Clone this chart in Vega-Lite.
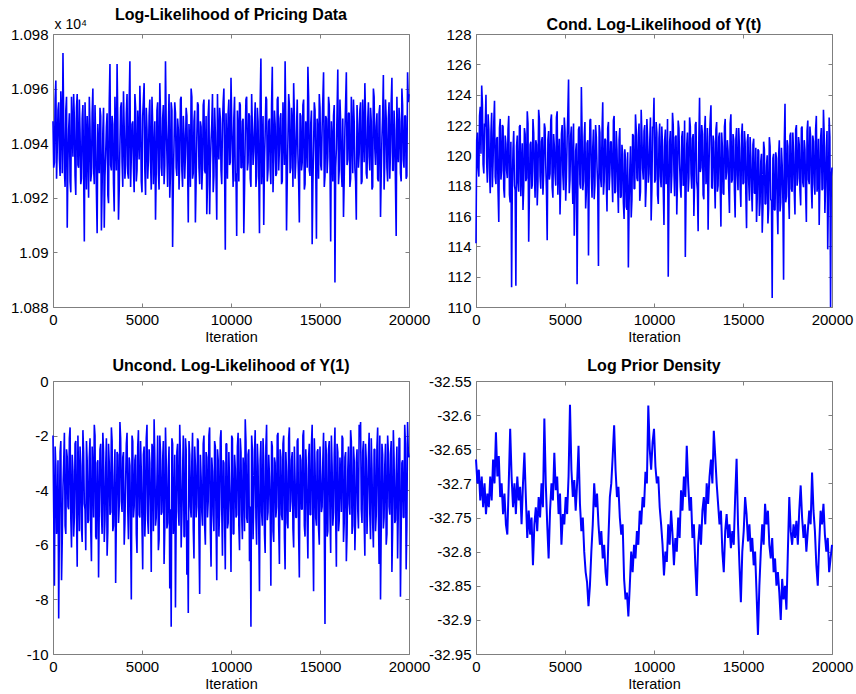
{
"$schema":"https://vega.github.io/schema/vega-lite/v6.json",
"autosize":{"type":"pad"},
"padding":{"left":9,"top":6,"right":0,"bottom":0},
"background":"white",
"datasets":{"t":[
{"x":0,"a":10948,"b":114.2,"c":-2.0,"d":-32.665},
{"x":80,"a":10933,"b":121.5,"c":-7.5,"d":-32.700},
{"x":160,"a":10963,"b":118.6,"c":-3.1,"d":-32.680},
{"x":240,"a":10938,"b":123.2,"c":-5.2,"d":-32.725},
{"x":320,"a":10955,"b":124.6,"c":-8.7,"d":-32.690},
{"x":400,"a":10928,"b":119.4,"c":-2.6,"d":-32.735},
{"x":480,"a":10950,"b":122.1,"c":-7.3,"d":-32.700},
{"x":560,"a":10973,"b":124.0,"c":-3.9,"d":-32.745},
{"x":640,"a":10930,"b":118.2,"c":-1.9,"d":-32.715},
{"x":720,"a":10952,"b":121.7,"c":-5.6,"d":-32.735},
{"x":800,"a":10909,"b":117.5,"c":-2.8,"d":-32.690},
{"x":880,"a":10945,"b":122.8,"c":-4.7,"d":-32.725},
{"x":960,"a":10926,"b":119.6,"c":-1.7,"d":-32.665},
{"x":1040,"a":10957,"b":123.6,"c":-6.1,"d":-32.700},
{"x":1120,"a":10935,"b":118.1,"c":-3.3,"d":-32.625},
{"x":1200,"a":10949,"b":121.2,"c":-5.0,"d":-32.690},
{"x":1280,"a":10921,"b":115.6,"c":-2.2,"d":-32.660},
{"x":1360,"a":10958,"b":122.4,"c":-6.8,"d":-32.720},
{"x":1440,"a":10931,"b":119.0,"c":-3.6,"d":-32.700},
{"x":1520,"a":10944,"b":121.9,"c":-2.4,"d":-32.745},
{"x":1600,"a":10927,"b":117.2,"c":-5.4,"d":-32.715},
{"x":1680,"a":10954,"b":120.8,"c":-1.8,"d":-32.760},
{"x":1760,"a":10904,"b":118.5,"c":-4.5,"d":-32.775},
{"x":1840,"a":10942,"b":122.6,"c":-6.2,"d":-32.700},
{"x":1920,"a":10950,"b":116.9,"c":-2.9,"d":-32.620},
{"x":2000,"a":10920,"b":111.3,"c":-5.1,"d":-32.690},
{"x":2080,"a":10946,"b":120.4,"c":-2.1,"d":-32.735},
{"x":2160,"a":10929,"b":118.0,"c":-6.6,"d":-32.700},
{"x":2240,"a":10960,"b":111.4,"c":-3.4,"d":-32.745},
{"x":2320,"a":10925,"b":121.3,"c":-1.6,"d":-32.690},
{"x":2400,"a":10941,"b":117.6,"c":-5.7,"d":-32.725},
{"x":2480,"a":10907,"b":122.0,"c":-3.0,"d":-32.705},
{"x":2560,"a":10938,"b":119.1,"c":-7.2,"d":-32.760},
{"x":2640,"a":10953,"b":116.4,"c":-2.5,"d":-32.700},
{"x":2720,"a":10908,"b":121.8,"c":-4.8,"d":-32.655},
{"x":2800,"a":10944,"b":118.3,"c":-1.9,"d":-32.720},
{"x":2880,"a":10909,"b":122.9,"c":-5.9,"d":-32.780},
{"x":2960,"a":10936,"b":114.3,"c":-3.2,"d":-32.740},
{"x":3040,"a":10951,"b":120.7,"c":-6.4,"d":-32.775},
{"x":3120,"a":10918,"b":117.8,"c":-2.3,"d":-32.750},
{"x":3200,"a":10969,"b":122.4,"c":-4.9,"d":-32.820},
{"x":3280,"a":10930,"b":118.9,"c":-1.7,"d":-32.760},
{"x":3360,"a":10947,"b":121.0,"c":-5.5,"d":-32.735},
{"x":3440,"a":10915,"b":116.7,"c":-3.5,"d":-32.770},
{"x":3520,"a":10943,"b":123.0,"c":-7.4,"d":-32.720},
{"x":3600,"a":10969,"b":118.6,"c":-2.6,"d":-32.750},
{"x":3680,"a":10912,"b":120.9,"c":-5.2,"d":-32.700},
{"x":3760,"a":10939,"b":117.4,"c":-1.5,"d":-32.735},
{"x":3840,"a":10955,"b":122.1,"c":-4.4,"d":-32.605},
{"x":3920,"a":10924,"b":119.3,"c":-2.8,"d":-32.700},
{"x":4000,"a":10946,"b":114.4,"c":-6.0,"d":-32.760},
{"x":4080,"a":10932,"b":121.6,"c":-3.7,"d":-32.810},
{"x":4160,"a":10958,"b":118.8,"c":-1.9,"d":-32.740},
{"x":4240,"a":10927,"b":122.7,"c":-5.8,"d":-32.700},
{"x":4320,"a":10970,"b":117.2,"c":-3.1,"d":-32.725},
{"x":4400,"a":10935,"b":120.6,"c":-8.0,"d":-32.655},
{"x":4480,"a":10948,"b":118.0,"c":-2.2,"d":-32.710},
{"x":4560,"a":10922,"b":122.9,"c":-4.6,"d":-32.690},
{"x":4640,"a":10953,"b":119.5,"c":-2.7,"d":-32.745},
{"x":4720,"a":10930,"b":116.1,"c":-6.3,"d":-32.715},
{"x":4800,"a":10944,"b":121.4,"c":-1.8,"d":-32.790},
{"x":4880,"a":10961,"b":118.7,"c":-5.0,"d":-32.745},
{"x":4960,"a":10926,"b":122.5,"c":-3.3,"d":-32.760},
{"x":5040,"a":10950,"b":117.0,"c":-6.9,"d":-32.720},
{"x":5120,"a":10962,"b":121.1,"c":-2.4,"d":-32.745},
{"x":5200,"a":10921,"b":125.0,"c":-4.7,"d":-32.690},
{"x":5280,"a":10945,"b":118.4,"c":-1.6,"d":-32.585},
{"x":5360,"a":10934,"b":121.9,"c":-5.6,"d":-32.680},
{"x":5440,"a":10956,"b":116.8,"c":-3.0,"d":-32.720},
{"x":5520,"a":10923,"b":114.7,"c":-7.0,"d":-32.695},
{"x":5600,"a":10947,"b":120.3,"c":-2.5,"d":-32.740},
{"x":5680,"a":10937,"b":111.5,"c":-1.4,"d":-32.700},
{"x":5760,"a":10912,"b":121.7,"c":-5.3,"d":-32.645},
{"x":5840,"a":10952,"b":118.1,"c":-3.6,"d":-32.730},
{"x":5920,"a":10929,"b":124.5,"c":-6.2,"d":-32.770},
{"x":6000,"a":10962,"b":117.7,"c":-2.0,"d":-32.750},
{"x":6080,"a":10931,"b":121.2,"c":-4.9,"d":-32.800},
{"x":6160,"a":10949,"b":116.5,"c":-2.9,"d":-32.830},
{"x":6240,"a":10925,"b":120.8,"c":-6.7,"d":-32.845},
{"x":6320,"a":10970,"b":113.4,"c":-1.7,"d":-32.880},
{"x":6400,"a":10936,"b":122.3,"c":-5.4,"d":-32.850},
{"x":6480,"a":10946,"b":118.6,"c":-3.2,"d":-32.800},
{"x":6560,"a":10920,"b":120.5,"c":-7.6,"d":-32.760},
{"x":6640,"a":10955,"b":117.1,"c":-9.0,"d":-32.700},
{"x":6720,"a":10902,"b":122.0,"c":-2.3,"d":-32.735},
{"x":6800,"a":10940,"b":119.2,"c":-5.1,"d":-32.715},
{"x":6880,"a":10951,"b":112.7,"c":-8.3,"d":-32.760},
{"x":6960,"a":10928,"b":121.5,"c":-2.6,"d":-32.790},
{"x":7040,"a":10945,"b":117.9,"c":-4.8,"d":-32.770},
{"x":7120,"a":10933,"b":123.5,"c":-1.6,"d":-32.810},
{"x":7200,"a":10957,"b":118.3,"c":-6.1,"d":-32.790},
{"x":7280,"a":10924,"b":121.0,"c":-3.4,"d":-32.830},
{"x":7360,"a":10943,"b":116.3,"c":-5.7,"d":-32.850},
{"x":7440,"a":10936,"b":122.2,"c":-2.1,"d":-32.780},
{"x":7520,"a":10950,"b":118.8,"c":-7.1,"d":-32.720},
{"x":7600,"a":10911,"b":120.9,"c":-8.5,"d":-32.700},
{"x":7680,"a":10938,"b":116.9,"c":-2.7,"d":-32.660},
{"x":7760,"a":10960,"b":122.6,"c":-5.0,"d":-32.615},
{"x":7840,"a":10927,"b":117.6,"c":-1.9,"d":-32.680},
{"x":7920,"a":10948,"b":120.4,"c":-6.5,"d":-32.720},
{"x":8000,"a":10911,"b":116.2,"c":-3.1,"d":-32.705},
{"x":8080,"a":10942,"b":121.8,"c":-4.6,"d":-32.750},
{"x":8160,"a":10954,"b":117.3,"c":-2.2,"d":-32.775},
{"x":8240,"a":10925,"b":120.1,"c":-7.8,"d":-32.760},
{"x":8320,"a":10946,"b":115.8,"c":-3.5,"d":-32.840},
{"x":8400,"a":10931,"b":119.7,"c":-5.3,"d":-32.870},
{"x":8480,"a":10956,"b":116.4,"c":-2.0,"d":-32.860},
{"x":8560,"a":10929,"b":112.6,"c":-6.0,"d":-32.895},
{"x":8640,"a":10914,"b":119.0,"c":-2.8,"d":-32.850},
{"x":8720,"a":10950,"b":115.9,"c":-4.4,"d":-32.800},
{"x":8800,"a":10914,"b":121.4,"c":-1.7,"d":-32.830},
{"x":8880,"a":10941,"b":117.8,"c":-6.8,"d":-32.790},
{"x":8960,"a":10958,"b":122.7,"c":-3.3,"d":-32.810},
{"x":9040,"a":10928,"b":118.5,"c":-5.5,"d":-32.770},
{"x":9120,"a":10944,"b":121.3,"c":-2.4,"d":-32.790},
{"x":9200,"a":10912,"b":117.0,"c":-7.3,"d":-32.740},
{"x":9280,"a":10939,"b":123.0,"c":-2.9,"d":-32.760},
{"x":9360,"a":10953,"b":119.1,"c":-4.7,"d":-32.720},
{"x":9440,"a":10930,"b":121.6,"c":-1.8,"d":-32.735},
{"x":9520,"a":10947,"b":116.6,"c":-6.4,"d":-32.683},
{"x":9600,"a":10960,"b":122.4,"c":-3.0,"d":-32.700},
{"x":9680,"a":10901,"b":118.2,"c":-6.9,"d":-32.586},
{"x":9760,"a":10940,"b":120.8,"c":-2.3,"d":-32.650},
{"x":9840,"a":10951,"b":115.7,"c":-5.2,"d":-32.680},
{"x":9920,"a":10932,"b":121.9,"c":-3.8,"d":-32.640},
{"x":10000,"a":10964,"b":123.8,"c":-7.0,"d":-32.620},
{"x":10080,"a":10936,"b":118.4,"c":-2.1,"d":-32.675},
{"x":10160,"a":10949,"b":121.5,"c":-5.6,"d":-32.700},
{"x":10240,"a":10926,"b":116.8,"c":-3.2,"d":-32.690},
{"x":10320,"a":10906,"b":122.1,"c":-4.9,"d":-32.735},
{"x":10400,"a":10945,"b":117.9,"c":-1.9,"d":-32.760},
{"x":10480,"a":10955,"b":120.6,"c":-6.2,"d":-32.790},
{"x":10560,"a":10931,"b":115.4,"c":-2.6,"d":-32.835},
{"x":10640,"a":10948,"b":121.7,"c":-5.8,"d":-32.800},
{"x":10720,"a":10907,"b":118.6,"c":-3.4,"d":-32.815},
{"x":10800,"a":10943,"b":112.0,"c":-1.4,"d":-32.760},
{"x":10880,"a":10957,"b":120.9,"c":-5.0,"d":-32.790},
{"x":10960,"a":10933,"b":117.5,"c":-2.7,"d":-32.740},
{"x":11040,"a":10950,"b":122.8,"c":-6.6,"d":-32.775},
{"x":11120,"a":10924,"b":118.9,"c":-9.0,"d":-32.820},
{"x":11200,"a":10946,"b":121.2,"c":-2.5,"d":-32.780},
{"x":11280,"a":10937,"b":116.1,"c":-4.5,"d":-32.800},
{"x":11360,"a":10955,"b":122.3,"c":-1.8,"d":-32.750},
{"x":11440,"a":10928,"b":119.4,"c":-6.0,"d":-32.780},
{"x":11520,"a":10948,"b":117.2,"c":-3.1,"d":-32.710},
{"x":11600,"a":10907,"b":121.6,"c":-7.7,"d":-32.740},
{"x":11680,"a":10971,"b":118.1,"c":-2.2,"d":-32.690},
{"x":11760,"a":10935,"b":113.3,"c":-5.3,"d":-32.720},
{"x":11840,"a":10910,"b":120.7,"c":-2.9,"d":-32.645},
{"x":11920,"a":10944,"b":117.6,"c":-6.3,"d":-32.700},
{"x":12000,"a":10956,"b":122.5,"c":-1.6,"d":-32.740},
{"x":12080,"a":10930,"b":118.8,"c":-4.8,"d":-32.720},
{"x":12160,"a":10949,"b":121.1,"c":-3.5,"d":-32.780},
{"x":12240,"a":10925,"b":116.0,"c":-7.5,"d":-32.760},
{"x":12320,"a":10968,"b":122.0,"c":-2.4,"d":-32.820},
{"x":12400,"a":10934,"b":118.3,"c":-5.9,"d":-32.865},
{"x":12480,"a":10947,"b":115.0,"c":-3.0,"d":-32.790},
{"x":12560,"a":10929,"b":123.8,"c":-4.6,"d":-32.760},
{"x":12640,"a":10957,"b":119.2,"c":-1.9,"d":-32.790},
{"x":12720,"a":10938,"b":121.4,"c":-6.7,"d":-32.740},
{"x":12800,"a":10951,"b":117.1,"c":-2.8,"d":-32.720},
{"x":12880,"a":10926,"b":122.6,"c":-5.1,"d":-32.760},
{"x":12960,"a":10944,"b":118.7,"c":-2.0,"d":-32.700},
{"x":13040,"a":10970,"b":115.1,"c":-6.9,"d":-32.730},
{"x":13120,"a":10908,"b":121.2,"c":-3.3,"d":-32.690},
{"x":13200,"a":10942,"b":123.3,"c":-5.4,"d":-32.665},
{"x":13280,"a":10954,"b":117.8,"c":-1.7,"d":-32.700},
{"x":13360,"a":10931,"b":120.9,"c":-4.4,"d":-32.623},
{"x":13440,"a":10947,"b":116.5,"c":-2.6,"d":-32.660},
{"x":13520,"a":10962,"b":122.2,"c":-6.1,"d":-32.700},
{"x":13600,"a":10927,"b":118.0,"c":-3.6,"d":-32.730},
{"x":13680,"a":10945,"b":121.5,"c":-5.0,"d":-32.760},
{"x":13760,"a":10936,"b":115.3,"c":-2.1,"d":-32.740},
{"x":13840,"a":10911,"b":120.6,"c":-7.2,"d":-32.800},
{"x":13920,"a":10950,"b":117.4,"c":-2.9,"d":-32.830},
{"x":14000,"a":10933,"b":122.4,"c":-4.7,"d":-32.770},
{"x":14080,"a":10956,"b":118.9,"c":-1.8,"d":-32.745},
{"x":14160,"a":10925,"b":120.3,"c":-5.7,"d":-32.780},
{"x":14240,"a":10943,"b":116.2,"c":-3.2,"d":-32.760},
{"x":14320,"a":10968,"b":122.7,"c":-6.5,"d":-32.795},
{"x":14400,"a":10930,"b":118.4,"c":-2.3,"d":-32.770},
{"x":14480,"a":10947,"b":121.0,"c":-4.9,"d":-32.790},
{"x":14560,"a":10903,"b":115.9,"c":-1.6,"d":-32.720},
{"x":14640,"a":10939,"b":121.8,"c":-7.7,"d":-32.664},
{"x":14720,"a":10952,"b":117.7,"c":-3.0,"d":-32.760},
{"x":14800,"a":10905,"b":120.5,"c":-5.3,"d":-32.820},
{"x":14880,"a":10944,"b":116.6,"c":-2.5,"d":-32.874},
{"x":14960,"a":10958,"b":122.1,"c":-6.0,"d":-32.800},
{"x":15040,"a":10932,"b":118.2,"c":-3.4,"d":-32.770},
{"x":15120,"a":10946,"b":120.8,"c":-4.6,"d":-32.720},
{"x":15200,"a":10966,"b":115.2,"c":-1.9,"d":-32.745},
{"x":15280,"a":10928,"b":121.4,"c":-8.9,"d":-32.785},
{"x":15360,"a":10949,"b":117.0,"c":-2.7,"d":-32.760},
{"x":15440,"a":10935,"b":119.9,"c":-5.5,"d":-32.800},
{"x":15520,"a":10954,"b":116.3,"c":-2.2,"d":-32.780},
{"x":15600,"a":10904,"b":121.1,"c":-6.3,"d":-32.820},
{"x":15680,"a":10941,"b":117.5,"c":-3.1,"d":-32.800},
{"x":15760,"a":10950,"b":115.6,"c":-4.8,"d":-32.860},
{"x":15840,"a":10889,"b":120.4,"c":-1.7,"d":-32.922},
{"x":15920,"a":10938,"b":116.0,"c":-6.8,"d":-32.850},
{"x":16000,"a":10967,"b":119.6,"c":-2.6,"d":-32.800},
{"x":16080,"a":10930,"b":114.9,"c":-5.1,"d":-32.760},
{"x":16160,"a":10948,"b":120.9,"c":-3.5,"d":-32.790},
{"x":16240,"a":10924,"b":116.8,"c":-2.0,"d":-32.730},
{"x":16320,"a":10913,"b":119.3,"c":-5.9,"d":-32.760},
{"x":16400,"a":10945,"b":115.5,"c":-2.8,"d":-32.740},
{"x":16480,"a":10966,"b":121.2,"c":-6.6,"d":-32.790},
{"x":16560,"a":10934,"b":117.1,"c":-3.3,"d":-32.810},
{"x":16640,"a":10951,"b":110.6,"c":-4.5,"d":-32.780},
{"x":16720,"a":10927,"b":120.1,"c":-1.8,"d":-32.830},
{"x":16800,"a":10943,"b":116.4,"c":-5.6,"d":-32.810},
{"x":16880,"a":10956,"b":119.8,"c":-2.4,"d":-32.850},
{"x":16960,"a":10931,"b":114.8,"c":-6.2,"d":-32.830},
{"x":17040,"a":10912,"b":121.0,"c":-3.0,"d":-32.860},
{"x":17120,"a":10947,"b":116.9,"c":-4.7,"d":-32.900},
{"x":17200,"a":10936,"b":119.4,"c":-1.6,"d":-32.840},
{"x":17280,"a":10955,"b":111.8,"c":-1.5,"d":-32.870},
{"x":17360,"a":10926,"b":123.4,"c":-5.2,"d":-32.850},
{"x":17440,"a":10944,"b":117.3,"c":-2.2,"d":-32.885},
{"x":17520,"a":10962,"b":120.6,"c":-6.4,"d":-32.800},
{"x":17600,"a":10929,"b":115.8,"c":-2.9,"d":-32.720},
{"x":17680,"a":10948,"b":121.5,"c":-4.4,"d":-32.770},
{"x":17760,"a":10935,"b":117.6,"c":-1.9,"d":-32.790},
{"x":17840,"a":10953,"b":120.2,"c":-5.8,"d":-32.760},
{"x":17920,"a":10923,"b":116.1,"c":-3.2,"d":-32.780},
{"x":18000,"a":10960,"b":122.0,"c":-6.1,"d":-32.755},
{"x":18080,"a":10938,"b":118.5,"c":-2.5,"d":-32.790},
{"x":18160,"a":10946,"b":120.7,"c":-4.9,"d":-32.740},
{"x":18240,"a":10927,"b":116.7,"c":-1.7,"d":-32.703},
{"x":18320,"a":10951,"b":121.9,"c":-6.7,"d":-32.750},
{"x":18400,"a":10913,"b":117.9,"c":-8.0,"d":-32.780},
{"x":18480,"a":10942,"b":120.4,"c":-2.3,"d":-32.760},
{"x":18560,"a":10965,"b":115.6,"c":-5.4,"d":-32.800},
{"x":18640,"a":10933,"b":122.3,"c":-3.1,"d":-32.770},
{"x":18720,"a":10949,"b":118.1,"c":-6.0,"d":-32.740},
{"x":18800,"a":10926,"b":121.2,"c":-2.0,"d":-32.760},
{"x":18880,"a":10955,"b":116.5,"c":-4.6,"d":-32.684},
{"x":18960,"a":10937,"b":120.9,"c":-2.7,"d":-32.740},
{"x":19040,"a":10964,"b":117.4,"c":-7.0,"d":-32.770},
{"x":19120,"a":10930,"b":122.6,"c":-1.8,"d":-32.820},
{"x":19200,"a":10945,"b":118.3,"c":-5.2,"d":-32.850},
{"x":19280,"a":10906,"b":115.4,"c":-3.4,"d":-32.790},
{"x":19360,"a":10941,"b":121.1,"c":-6.5,"d":-32.740},
{"x":19440,"a":10953,"b":117.7,"c":-2.1,"d":-32.760},
{"x":19520,"a":10929,"b":123.0,"c":-7.9,"d":-32.730},
{"x":19600,"a":10960,"b":116.2,"c":-3.0,"d":-32.775},
{"x":19680,"a":10934,"b":120.5,"c":-5.0,"d":-32.800},
{"x":19760,"a":10950,"b":113.8,"c":-1.6,"d":-32.780},
{"x":19840,"a":10927,"b":122.5,"c":-6.9,"d":-32.830},
{"x":19920,"a":10966,"b":110.0,"c":-1.5,"d":-32.810},
{"x":20000,"a":10958,"b":119.2,"c":-2.8,"d":-32.790},
{"x":40,"a":10931,"b":121.0,"c":-4.8},
{"x":120,"a":10956,"b":119.2,"c":-2.4},
{"x":200,"a":10927,"b":122.6,"c":-5.6},
{"x":280,"a":10952,"b":120.1,"c":-2.9},
{"x":360,"a":10934,"b":123.4,"c":-5.1},
{"x":440,"a":10959,"b":118.8,"c":-2.2},
{"x":520,"a":10929,"b":121.9,"c":-5.8},
{"x":600,"a":10948,"b":119.5,"c":-3.0},
{"x":680,"a":10924,"b":122.7,"c":-5.3},
{"x":760,"a":10957,"b":118.9,"c":-2.5},
{"x":840,"a":10933,"b":121.5,"c":-4.6},
{"x":920,"a":10951,"b":117.9,"c":-2.1},
{"x":1000,"a":10922,"b":122.2,"c":-5.0},
{"x":1080,"a":10946,"b":118.6,"c":-2.7},
{"x":1160,"a":10958,"b":121.1,"c":-5.7},
{"x":1240,"a":10928,"b":117.6,"c":-2.3},
{"x":1320,"a":10953,"b":121.8,"c":-4.9},
{"x":1400,"a":10932,"b":118.4,"c":-2.0},
{"x":1480,"a":10956,"b":122.0,"c":-5.5},
{"x":1560,"a":10925,"b":117.8,"c":-3.1},
{"x":1640,"a":10949,"b":121.3,"c":-5.9},
{"x":1720,"a":10930,"b":119.0,"c":-2.6},
{"x":1800,"a":10955,"b":121.7,"c":-4.7},
{"x":1880,"a":10923,"b":117.4,"c":-2.2},
{"x":1960,"a":10940,"b":120.9,"c":-5.2},
{"x":2040,"a":10957,"b":118.1,"c":-2.8},
{"x":2120,"a":10926,"b":121.6,"c":-5.4},
{"x":2200,"a":10951,"b":117.7,"c":-2.4},
{"x":2280,"a":10931,"b":120.6,"c":-5.0},
{"x":2360,"a":10954,"b":118.2,"c":-2.0},
{"x":2440,"a":10922,"b":121.9,"c":-5.8},
{"x":2520,"a":10947,"b":117.3,"c":-2.9},
{"x":2600,"a":10929,"b":120.8,"c":-4.6},
{"x":2680,"a":10950,"b":117.9,"c":-2.3},
{"x":2760,"a":10924,"b":121.4,"c":-5.6},
{"x":2840,"a":10953,"b":118.5,"c":-2.6},
{"x":2920,"a":10928,"b":122.1,"c":-5.1},
{"x":3000,"a":10946,"b":117.5,"c":-2.1},
{"x":3080,"a":10921,"b":120.9,"c":-5.5},
{"x":3160,"a":10955,"b":118.0,"c":-3.0},
{"x":3240,"a":10932,"b":121.5,"c":-4.8},
{"x":3320,"a":10950,"b":117.2,"c":-2.2},
{"x":3400,"a":10925,"b":120.7,"c":-5.3},
{"x":3480,"a":10957,"b":118.3,"c":-2.5},
{"x":3560,"a":10930,"b":122.4,"c":-4.9},
{"x":3640,"a":10948,"b":117.8,"c":-2.7},
{"x":3720,"a":10923,"b":121.2,"c":-4.6},
{"x":3800,"a":10953,"b":118.7,"c":-2.1},
{"x":3880,"a":10933,"b":121.8,"c":-4.8},
{"x":3960,"a":10959,"b":117.6,"c":-2.6},
{"x":4040,"a":10927,"b":121.0,"c":-5.2},
{"x":4120,"a":10951,"b":118.4,"c":-2.3},
{"x":4200,"a":10929,"b":122.3,"c":-4.7},
{"x":4280,"a":10955,"b":117.9,"c":-2.8},
{"x":4360,"a":10924,"b":121.4,"c":-5.4},
{"x":4440,"a":10947,"b":118.8,"c":-2.0},
{"x":4520,"a":10931,"b":122.5,"c":-5.0},
{"x":4600,"a":10958,"b":117.4,"c":-2.9},
{"x":4680,"a":10926,"b":121.1,"c":-5.6},
{"x":4760,"a":10952,"b":118.2,"c":-2.4},
{"x":4840,"a":10934,"b":122.0,"c":-4.9},
{"x":4920,"a":10949,"b":117.7,"c":-2.2},
{"x":5000,"a":10922,"b":121.6,"c":-5.3},
{"x":5080,"a":10956,"b":118.6,"c":-2.7},
{"x":5160,"a":10930,"b":122.8,"c":-5.7},
{"x":5240,"a":10953,"b":117.5,"c":-2.1},
{"x":5320,"a":10927,"b":121.3,"c":-5.1},
{"x":5400,"a":10950,"b":118.9,"c":-2.5},
{"x":5480,"a":10933,"b":122.1,"c":-4.6},
{"x":5560,"a":10957,"b":117.3,"c":-2.3},
{"x":5640,"a":10925,"b":120.8,"c":-5.5},
{"x":5720,"a":10948,"b":118.1,"c":-2.8},
{"x":5800,"a":10930,"b":121.9,"c":-5.0},
{"x":5880,"a":10955,"b":117.8,"c":-2.0},
{"x":5960,"a":10923,"b":121.4,"c":-5.8},
{"x":6040,"a":10951,"b":118.3,"c":-2.6},
{"x":6120,"a":10928,"b":122.2,"c":-4.8},
{"x":6200,"a":10954,"b":117.6,"c":-2.2},
{"x":6280,"a":10932,"b":121.0,"c":-5.4},
{"x":6360,"a":10947,"b":118.7,"c":-2.9},
{"x":6440,"a":10924,"b":122.4,"c":-5.2},
{"x":6520,"a":10958,"b":117.2,"c":-2.4},
{"x":6600,"a":10929,"b":121.7,"c":-4.7},
{"x":6680,"a":10952,"b":118.0,"c":-2.1},
{"x":6760,"a":10926,"b":121.2,"c":-5.6},
{"x":6840,"a":10955,"b":117.9,"c":-2.7},
{"x":6920,"a":10931,"b":122.0,"c":-5.0},
{"x":7000,"a":10949,"b":118.5,"c":-2.3},
{"x":7080,"a":10923,"b":121.5,"c":-5.3},
{"x":7160,"a":10956,"b":117.4,"c":-2.8},
{"x":7240,"a":10930,"b":121.1,"c":-4.9},
{"x":7320,"a":10950,"b":118.2,"c":-2.0},
{"x":7400,"a":10927,"b":121.8,"c":-5.7},
{"x":7480,"a":10953,"b":117.7,"c":-2.5},
{"x":7560,"a":10933,"b":120.9,"c":-5.1},
{"x":7640,"a":10947,"b":118.6,"c":-2.2},
{"x":7720,"a":10924,"b":122.3,"c":-4.6},
{"x":7800,"a":10957,"b":117.5,"c":-2.9},
{"x":7880,"a":10929,"b":121.6,"c":-5.4},
{"x":7960,"a":10952,"b":118.0,"c":-2.4},
{"x":8040,"a":10926,"b":121.0,"c":-5.0},
{"x":8120,"a":10955,"b":117.2,"c":-2.1},
{"x":8200,"a":10931,"b":120.7,"c":-5.6},
{"x":8280,"a":10948,"b":116.9,"c":-2.7},
{"x":8360,"a":10923,"b":120.4,"c":-4.8},
{"x":8440,"a":10954,"b":116.6,"c":-2.3},
{"x":8520,"a":10930,"b":120.2,"c":-5.3},
{"x":8600,"a":10950,"b":116.8,"c":-2.6},
{"x":8680,"a":10925,"b":120.6,"c":-5.0},
{"x":8760,"a":10956,"b":117.1,"c":-2.0},
{"x":8840,"a":10932,"b":121.3,"c":-5.5},
{"x":8920,"a":10947,"b":117.8,"c":-2.8},
{"x":9000,"a":10922,"b":121.7,"c":-4.9},
{"x":9080,"a":10953,"b":118.3,"c":-2.2},
{"x":9160,"a":10928,"b":122.1,"c":-5.2},
{"x":9240,"a":10958,"b":117.6,"c":-2.5},
{"x":9320,"a":10934,"b":121.4,"c":-5.7},
{"x":9400,"a":10949,"b":118.4,"c":-2.1},
{"x":9480,"a":10925,"b":122.0,"c":-4.7},
{"x":9560,"a":10955,"b":117.9,"c":-2.9},
{"x":9640,"a":10930,"b":121.2,"c":-5.1},
{"x":9720,"a":10951,"b":118.8,"c":-2.3},
{"x":9800,"a":10927,"b":122.5,"c":-5.4},
{"x":9880,"a":10956,"b":117.7,"c":-2.6},
{"x":9960,"a":10933,"b":121.8,"c":-4.8},
{"x":10040,"a":10948,"b":118.2,"c":-2.0},
{"x":10120,"a":10924,"b":122.2,"c":-5.6},
{"x":10200,"a":10957,"b":117.4,"c":-2.7},
{"x":10280,"a":10929,"b":121.1,"c":-5.0},
{"x":10360,"a":10952,"b":118.6,"c":-2.4},
{"x":10440,"a":10926,"b":121.9,"c":-5.3},
{"x":10520,"a":10954,"b":117.8,"c":-2.1},
{"x":10600,"a":10931,"b":121.0,"c":-4.9},
{"x":10680,"a":10949,"b":118.1,"c":-2.8},
{"x":10760,"a":10923,"b":122.4,"c":-5.5},
{"x":10840,"a":10956,"b":117.5,"c":-2.2},
{"x":10920,"a":10930,"b":121.6,"c":-5.2},
{"x":11000,"a":10951,"b":118.7,"c":-2.5},
{"x":11080,"a":10927,"b":122.0,"c":-4.6},
{"x":11160,"a":10958,"b":117.3,"c":-2.0},
{"x":11240,"a":10932,"b":121.3,"c":-5.8},
{"x":11320,"a":10947,"b":118.4,"c":-2.6},
{"x":11400,"a":10924,"b":121.8,"c":-5.0},
{"x":11480,"a":10953,"b":117.9,"c":-2.3},
{"x":11560,"a":10929,"b":121.2,"c":-5.4},
{"x":11640,"a":10955,"b":118.0,"c":-2.9},
{"x":11720,"a":10925,"b":122.3,"c":-4.8},
{"x":11800,"a":10950,"b":117.6,"c":-2.1},
{"x":11880,"a":10933,"b":121.5,"c":-5.6},
{"x":11960,"a":10957,"b":118.5,"c":-2.4},
{"x":12040,"a":10926,"b":121.9,"c":-5.1},
{"x":12120,"a":10948,"b":117.8,"c":-2.7},
{"x":12200,"a":10931,"b":121.4,"c":-4.7},
{"x":12280,"a":10954,"b":118.2,"c":-2.2},
{"x":12360,"a":10922,"b":122.2,"c":-5.5},
{"x":12440,"a":10952,"b":117.7,"c":-2.8},
{"x":12520,"a":10928,"b":121.1,"c":-5.0},
{"x":12600,"a":10956,"b":118.9,"c":-2.0},
{"x":12680,"a":10930,"b":122.0,"c":-5.3},
{"x":12760,"a":10949,"b":117.4,"c":-2.5},
{"x":12840,"a":10925,"b":121.6,"c":-4.9},
{"x":12920,"a":10955,"b":118.1,"c":-2.3},
{"x":13000,"a":10932,"b":121.8,"c":-5.7},
{"x":13080,"a":10947,"b":118.6,"c":-2.6},
{"x":13160,"a":10927,"b":122.4,"c":-5.2},
{"x":13240,"a":10958,"b":117.9,"c":-2.1},
{"x":13320,"a":10929,"b":121.3,"c":-4.8},
{"x":13400,"a":10953,"b":118.3,"c":-2.9},
{"x":13480,"a":10924,"b":121.7,"c":-5.4},
{"x":13560,"a":10950,"b":117.6,"c":-2.4},
{"x":13640,"a":10933,"b":121.2,"c":-5.0},
{"x":13720,"a":10956,"b":118.0,"c":-2.2},
{"x":13800,"a":10926,"b":121.5,"c":-5.6},
{"x":13880,"a":10951,"b":117.5,"c":-2.7},
{"x":13960,"a":10930,"b":121.9,"c":-4.7},
{"x":14040,"a":10954,"b":118.4,"c":-2.0},
{"x":14120,"a":10923,"b":121.0,"c":-5.3},
{"x":14200,"a":10948,"b":117.8,"c":-2.5},
{"x":14280,"a":10931,"b":122.1,"c":-5.1},
{"x":14360,"a":10957,"b":118.2,"c":-2.8},
{"x":14440,"a":10928,"b":121.4,"c":-4.9},
{"x":14520,"a":10952,"b":117.6,"c":-2.3},
{"x":14600,"a":10925,"b":121.1,"c":-5.5},
{"x":14680,"a":10955,"b":118.7,"c":-2.1},
{"x":14760,"a":10932,"b":121.8,"c":-5.0},
{"x":14840,"a":10949,"b":117.9,"c":-2.6},
{"x":14920,"a":10927,"b":121.3,"c":-5.4},
{"x":15000,"a":10953,"b":118.1,"c":-2.4},
{"x":15080,"a":10930,"b":121.6,"c":-4.8},
{"x":15160,"a":10956,"b":117.4,"c":-2.9},
{"x":15240,"a":10924,"b":120.9,"c":-5.2},
{"x":15320,"a":10950,"b":118.3,"c":-2.2},
{"x":15400,"a":10929,"b":121.2,"c":-5.7},
{"x":15480,"a":10957,"b":117.7,"c":-2.5},
{"x":15560,"a":10933,"b":120.7,"c":-4.9},
{"x":15640,"a":10948,"b":117.5,"c":-2.0},
{"x":15720,"a":10926,"b":120.5,"c":-5.3},
{"x":15800,"a":10954,"b":117.2,"c":-2.7},
{"x":15880,"a":10931,"b":120.3,"c":-5.0},
{"x":15960,"a":10952,"b":116.9,"c":-2.3},
{"x":16040,"a":10925,"b":120.1,"c":-5.5},
{"x":16120,"a":10956,"b":116.6,"c":-2.8},
{"x":16200,"a":10930,"b":120.4,"c":-4.8},
{"x":16280,"a":10949,"b":116.8,"c":-2.1},
{"x":16360,"a":10927,"b":120.0,"c":-5.2},
{"x":16440,"a":10955,"b":116.5,"c":-2.6},
{"x":16520,"a":10932,"b":120.6,"c":-5.6},
{"x":16600,"a":10951,"b":117.0,"c":-2.4},
{"x":16680,"a":10924,"b":119.8,"c":-4.9},
{"x":16760,"a":10957,"b":116.4,"c":-2.2},
{"x":16840,"a":10929,"b":120.2,"c":-5.3},
{"x":16920,"a":10948,"b":116.7,"c":-2.9},
{"x":17000,"a":10926,"b":119.9,"c":-5.0},
{"x":17080,"a":10954,"b":116.3,"c":-2.5},
{"x":17160,"a":10931,"b":120.5,"c":-5.4},
{"x":17240,"a":10952,"b":117.1,"c":-2.0},
{"x":17320,"a":10925,"b":120.8,"c":-4.7},
{"x":17400,"a":10956,"b":116.9,"c":-2.6},
{"x":17480,"a":10933,"b":121.0,"c":-5.1},
{"x":17560,"a":10950,"b":117.4,"c":-2.3},
{"x":17640,"a":10927,"b":121.3,"c":-5.6},
{"x":17720,"a":10955,"b":117.8,"c":-2.8},
{"x":17800,"a":10930,"b":121.5,"c":-4.9},
{"x":17880,"a":10948,"b":117.6,"c":-2.1},
{"x":17960,"a":10924,"b":121.7,"c":-5.2},
{"x":18040,"a":10957,"b":118.0,"c":-2.5},
{"x":18120,"a":10932,"b":121.2,"c":-5.5},
{"x":18200,"a":10951,"b":117.7,"c":-2.4},
{"x":18280,"a":10926,"b":121.8,"c":-4.8},
{"x":18360,"a":10954,"b":118.2,"c":-2.0},
{"x":18440,"a":10929,"b":121.0,"c":-5.3},
{"x":18520,"a":10950,"b":117.5,"c":-2.7},
{"x":18600,"a":10923,"b":121.6,"c":-5.0},
{"x":18680,"a":10956,"b":118.4,"c":-2.3},
{"x":18760,"a":10931,"b":121.9,"c":-5.6},
{"x":18840,"a":10949,"b":117.9,"c":-2.6},
{"x":18920,"a":10927,"b":121.3,"c":-4.9},
{"x":19000,"a":10955,"b":118.1,"c":-2.2},
{"x":19080,"a":10930,"b":121.7,"c":-5.4},
{"x":19160,"a":10952,"b":117.6,"c":-2.8},
{"x":19240,"a":10925,"b":121.1,"c":-5.1},
{"x":19320,"a":10957,"b":118.3,"c":-2.4},
{"x":19400,"a":10933,"b":121.8,"c":-4.7},
{"x":19480,"a":10948,"b":117.8,"c":-2.1},
{"x":19560,"a":10926,"b":121.4,"c":-5.5},
{"x":19640,"a":10954,"b":118.0,"c":-2.9},
{"x":19720,"a":10931,"b":121.6,"c":-5.0},
{"x":19800,"a":10950,"b":117.5,"c":-2.3},
{"x":19880,"a":10928,"b":121.2,"c":-5.3},
{"x":19960,"a":10955,"b":118.6,"c":-2.6}
]},
"data":{"name":"t"},
"columns":2,
"spacing":{"row":74,"column":67},
"bounds":"flush",
"concat":[
{"width":356,"height":273,"title":{"text":"Log-Likelihood of Pricing Data","offset":-6},
 "layer":[
  {"mark":{"type":"line","stroke":"#0000ff","strokeWidth":1.6,"strokeJoin":"bevel","invalid":"filter"},
   "encoding":{
    "x":{"field":"x","type":"quantitative","scale":{"domain":[0,20000],"nice":false},"axis":{"orient":"bottom","values":[0,5000,10000,15000,20000],"format":"d","title":"Iteration"}},
    "y":{"field":"a","type":"quantitative","scale":{"domain":[10880,10980],"nice":false,"zero":false},"axis":{"orient":"left","values":[10880,10900,10920,10940,10960,10980],"labelExpr":"format(datum.value/10000,'.4~f')","title":"x 10⁴","titleAngle":0,"titleAlign":"left","titleBaseline":"alphabetic","titleX":1,"titleY":-6,"titleFontSize":14}}}},
  {"mark":{"type":"line","opacity":0,"invalid":"filter"},
   "encoding":{
    "x":{"field":"x","type":"quantitative","axis":{"orient":"top","values":[0,5000,10000,15000,20000],"labels":false,"title":null}},
    "y":{"field":"a","type":"quantitative","axis":{"orient":"right","values":[10880,10900,10920,10940,10960,10980],"labels":false,"title":null}}}}
 ],
 "resolve":{"axis":{"x":"independent","y":"independent"}}},
{"width":356,"height":273,"title":{"text":"Cond. Log-Likelihood of Y(t)","offset":-6},
 "layer":[
  {"mark":{"type":"line","stroke":"#0000ff","strokeWidth":1.6,"strokeJoin":"bevel","invalid":"filter"},
   "encoding":{
    "x":{"field":"x","type":"quantitative","scale":{"domain":[0,20000],"nice":false},"axis":{"orient":"bottom","values":[0,5000,10000,15000,20000],"format":"d","title":"Iteration"}},
    "y":{"field":"b","type":"quantitative","scale":{"domain":[110,128],"nice":false,"zero":false},"axis":{"orient":"left","values":[110,112,114,116,118,120,122,124,126,128],"title":null}}}},
  {"mark":{"type":"line","opacity":0,"invalid":"filter"},
   "encoding":{
    "x":{"field":"x","type":"quantitative","axis":{"orient":"top","values":[0,5000,10000,15000,20000],"labels":false,"title":null}},
    "y":{"field":"b","type":"quantitative","axis":{"orient":"right","values":[110,112,114,116,118,120,122,124,126,128],"labels":false,"title":null}}}}
 ],
 "resolve":{"axis":{"x":"independent","y":"independent"}}},
{"width":356,"height":273,"title":{"text":"Uncond. Log-Likelihood of Y(1)","offset":0},
 "layer":[
  {"mark":{"type":"line","stroke":"#0000ff","strokeWidth":1.6,"strokeJoin":"bevel","invalid":"filter"},
   "encoding":{
    "x":{"field":"x","type":"quantitative","scale":{"domain":[0,20000],"nice":false},"axis":{"orient":"bottom","values":[0,5000,10000,15000,20000],"format":"d","title":"Iteration"}},
    "y":{"field":"c","type":"quantitative","scale":{"domain":[-10,0],"nice":false,"zero":false},"axis":{"orient":"left","values":[-10,-8,-6,-4,-2,0],"labelExpr":"replace(format(datum.value,'~g'),'−','-')","title":null}}}},
  {"mark":{"type":"line","opacity":0,"invalid":"filter"},
   "encoding":{
    "x":{"field":"x","type":"quantitative","axis":{"orient":"top","values":[0,5000,10000,15000,20000],"labels":false,"title":null}},
    "y":{"field":"c","type":"quantitative","axis":{"orient":"right","values":[-10,-8,-6,-4,-2,0],"labels":false,"title":null}}}}
 ],
 "resolve":{"axis":{"x":"independent","y":"independent"}}},
{"width":356,"height":273,"title":{"text":"Log Prior Density","offset":0},
 "layer":[
  {"mark":{"type":"line","stroke":"#0000ff","strokeWidth":2.0,"strokeJoin":"bevel","invalid":"filter"},
   "encoding":{
    "x":{"field":"x","type":"quantitative","scale":{"domain":[0,20000],"nice":false},"axis":{"orient":"bottom","values":[0,5000,10000,15000,20000],"format":"d","title":"Iteration"}},
    "y":{"field":"d","type":"quantitative","scale":{"domain":[-32.95,-32.55],"nice":false,"zero":false},"axis":{"orient":"left","values":[-32.95,-32.9,-32.85,-32.8,-32.75,-32.7,-32.65,-32.6,-32.55],"labelExpr":"replace(format(datum.value,'.2~f'),'−','-')","title":null}}}},
  {"mark":{"type":"line","opacity":0,"invalid":"filter"},
   "encoding":{
    "x":{"field":"x","type":"quantitative","axis":{"orient":"top","values":[0,5000,10000,15000,20000],"labels":false,"title":null}},
    "y":{"field":"d","type":"quantitative","axis":{"orient":"right","values":[-32.95,-32.9,-32.85,-32.8,-32.75,-32.7,-32.65,-32.6,-32.55],"labels":false,"title":null}}}}
 ],
 "resolve":{"axis":{"x":"independent","y":"independent"}}}
],
"config":{
 "font":"Liberation Sans",
 "view":{"stroke":"#7f7f7f","strokeWidth":1},
 "axis":{"domain":false,"grid":false,"ticks":true,"tickSize":-4,"tickColor":"#7f7f7f","tickWidth":1,"labelFont":"Liberation Sans","labelFontSize":15,"labelColor":"#000000","labelPadding":9,"labelFlush":false,"labelOverlap":false,"titleFont":"Liberation Sans","titleFontSize":14.5,"titleFontWeight":"normal","titleColor":"#000000","titlePadding":3},
 "title":{"font":"Liberation Sans","fontSize":16,"fontWeight":"bold","color":"#000000"}
}
}
